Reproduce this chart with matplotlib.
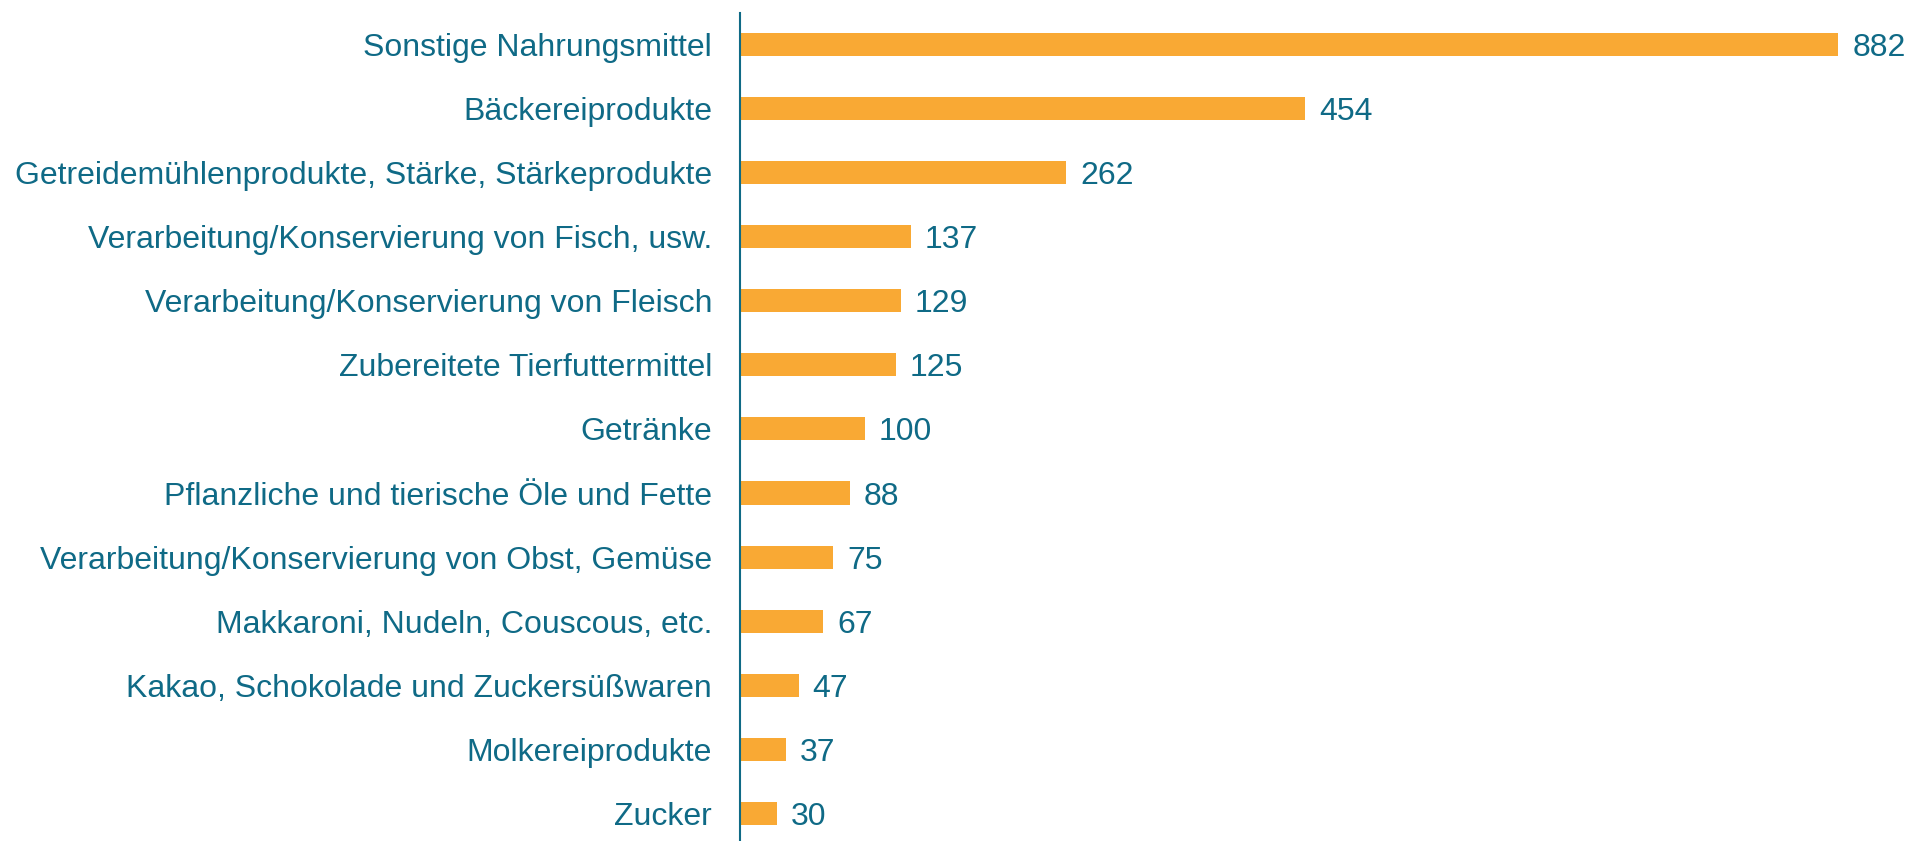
import matplotlib.pyplot as plt

categories = [
    'Sonstige Nahrungsmittel',
    'Bäckereiprodukte',
    'Getreidemühlenprodukte, Stärke, Stärkeprodukte',
    'Verarbeitung/Konservierung von Fisch, usw.',
    'Verarbeitung/Konservierung von Fleisch',
    'Zubereitete Tierfuttermittel',
    'Getränke',
    'Pflanzliche und tierische Öle und Fette',
    'Verarbeitung/Konservierung von Obst, Gemüse',
    'Makkaroni, Nudeln, Couscous, etc.',
    'Kakao, Schokolade und Zuckersüßwaren',
    'Molkereiprodukte',
    'Zucker',
]
values = [882, 454, 262, 137, 129, 125, 100, 88, 75, 67, 47, 37, 30]

TEAL = '#0f6a86'
ORANGE = '#f9a934'

plt.rcParams['font.family'] = ['Liberation Sans', 'DejaVu Sans']

fig = plt.figure(figsize=(19.08, 8.41), dpi=100)
ax = fig.add_axes([740 / 1908, 0, 1 - 740 / 1908, 828 / 841])

pos = list(range(len(categories)))
ax.barh(pos, values, height=0.36, color=ORANGE)

for y, v in zip(pos, values):
    ax.annotate(str(v), (v, y), xytext=(10, 0), textcoords='offset points',
                va='center_baseline', ha='left', fontsize=23, color=TEAL)

ax.set_xlim(0, 938)
ax.set_ylim(12.43, -0.49)
ax.set_yticks(pos)
ax.set_yticklabels(categories, fontsize=23, color=TEAL, va='center_baseline')
ax.tick_params(axis='y', length=0, pad=20)
ax.set_xticks([])

for s in ['top', 'right', 'bottom']:
    ax.spines[s].set_visible(False)
ax.spines['left'].set_color(TEAL)
ax.spines['left'].set_linewidth(1.5)

fig.savefig('out.png', dpi=100)
